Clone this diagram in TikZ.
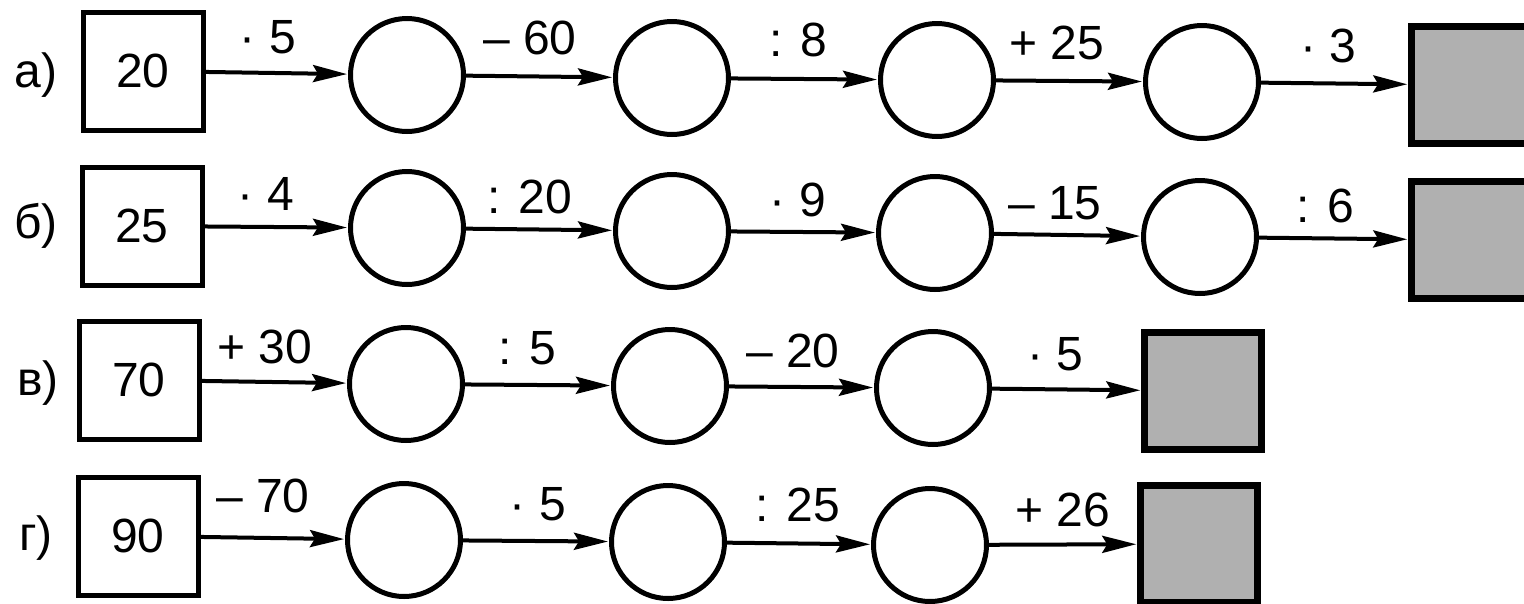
\documentclass[tikz,border=0pt]{standalone}
\usepackage{fontspec}
\setmainfont{Liberation Sans}
\usetikzlibrary{arrows.meta}
\begin{document}
\begin{tikzpicture}[x=1pt,y=-1pt,
  every node/.style={font=\fontsize{48}{56}\selectfont, inner sep=0pt},
  startbox/.style={draw, line width=5pt, minimum width=120pt, minimum height=118pt},
  endbox/.style={draw, line width=6.5pt, fill=gray!62, minimum width=117pt, minimum height=117pt},
  blank/.style={draw, circle, line width=5pt, minimum size=113pt},
  op/.style={anchor=center},
  conn/.style={line width=4pt, -{Stealth[length=34pt,width=17pt,inset=5pt]}, shorten >=1pt}]
\useasboundingbox (0,0) rectangle (1524,603);
% row a
\node (la) at (36,75) {а)};
\node[startbox] (a0) at (143,71) {20};
\node[blank] (a1) at (407,75) {};
\node[blank] (a2) at (672,78) {};
\node[blank] (a3) at (937,80) {};
\node[blank] (a4) at (1202,82) {};
\node[endbox] (a5) at (1470,85) {};
\draw[conn] (a0) -- (a1);
\draw[conn] (a1) -- (a2);
\draw[conn] (a2) -- (a3);
\draw[conn] (a3) -- (a4);
\draw[conn] (a4) -- (a5);
\node[op] (oa1) at (268,37) {· 5};
\node[op] (oa2) at (530,38) {– 60};
\node[op] (oa3) at (798,40) {: 8};
\node[op] (oa4) at (1057,43) {+ 25};
\node[op] (oa5) at (1328,46) {· 3};
% row b
\node (lb) at (36,226) {б)};
\node[startbox] (b0) at (142,226) {25};
\node[blank] (b1) at (407,228) {};
\node[blank] (b2) at (672,231) {};
\node[blank] (b3) at (935,233) {};
\node[blank] (b4) at (1200,237) {};
\node[endbox] (b5) at (1470,240) {};
\draw[conn] (b0) -- (b1);
\draw[conn] (b1) -- (b2);
\draw[conn] (b2) -- (b3);
\draw[conn] (b3) -- (b4);
\draw[conn] (b4) -- (b5);
\node[op] (ob1) at (266,194) {· 4};
\node[op] (ob2) at (530,197) {: 20};
\node[op] (ob3) at (798,200) {· 9};
\node[op] (ob4) at (1055,203) {– 15};
\node[op] (ob5) at (1325,206) {: 6};
% row v
\node (lv) at (38,383) {в)};
\node[startbox] (v0) at (139,380) {70};
\node[blank] (v1) at (406,384) {};
\node[blank] (v2) at (670,386) {};
\node[blank] (v3) at (933,388) {};
\node[endbox] (v4) at (1203,391) {};
\draw[conn] (v0) -- (v1);
\draw[conn] (v1) -- (v2);
\draw[conn] (v2) -- (v3);
\draw[conn] (v3) -- (v4);
\node[op] (ov1) at (265,347) {+ 30};
\node[op] (ov2) at (527,348) {: 5};
\node[op] (ov3) at (793,351) {– 20};
\node[op] (ov4) at (1055,354) {· 5};
% row g
\node (lg) at (36,538) {г)};
\node[startbox] (g0) at (138,536) {90};
\node[blank] (g1) at (404,540) {};
\node[blank] (g2) at (668,542) {};
\node[blank] (g3) at (930,545) {};
\node[endbox] (g4) at (1199,544) {};
\draw[conn] (g0) -- (g1);
\draw[conn] (g1) -- (g2);
\draw[conn] (g2) -- (g3);
\draw[conn] (g3) -- (g4);
\node[op] (og1) at (263,496) {– 70};
\node[op] (og2) at (538,504) {· 5};
\node[op] (og3) at (798,505) {: 25};
\node[op] (og4) at (1063,510) {+ 26};
\end{tikzpicture}
\end{document}
